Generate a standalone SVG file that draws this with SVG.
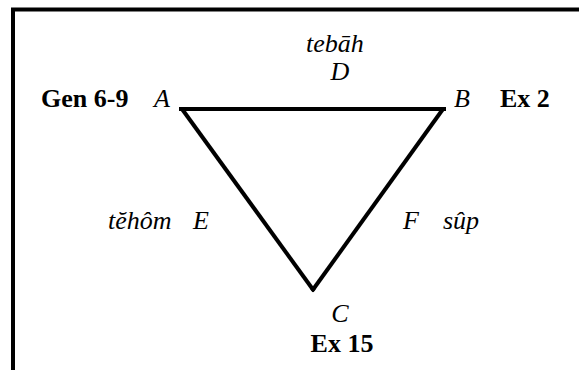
<svg xmlns="http://www.w3.org/2000/svg" width="579" height="370" viewBox="0 0 579 370">
<style>
text{font-family:'Liberation Serif',Tinos,'Times New Roman',Times,serif;font-size:26px;fill:#000}
.i{font-style:italic}
.b{font-weight:bold}
.ln{stroke:#000;stroke-width:4;fill:none}
</style>
<rect width="579" height="370" fill="#fff"/>
<path class="ln" d="M13 372 V9.5 H581"/>
<g id="connectors">
<line class="ln" x1="179" y1="109" x2="446" y2="109"/>
<line class="ln" x1="182" y1="109" x2="314" y2="291"/>
<line class="ln" x1="443" y1="109" x2="312" y2="291"/>
</g>
<g id="nodeA"><text class="b" x="41" y="107">Gen 6-9</text><text class="i" x="154" y="107">A</text></g>
<g id="nodeB"><text class="i" x="454" y="107">B</text><text class="b" x="500" y="107">Ex 2</text></g>
<g id="nodeC"><text class="i" x="340" y="322" text-anchor="middle">C</text><text class="b" x="342" y="352" text-anchor="middle">Ex 15</text></g>
<g id="nodeD"><text class="i" x="335" y="52" text-anchor="middle">tebāh</text><text class="i" x="340" y="80" text-anchor="middle">D</text></g>
<g id="nodeE"><text class="i" x="108" y="229">tĕhôm</text><text class="i" x="193" y="229">E</text></g>
<g id="nodeF"><text class="i" x="403" y="229">F</text><text class="i" x="443" y="229">sûp</text></g>
</svg>
